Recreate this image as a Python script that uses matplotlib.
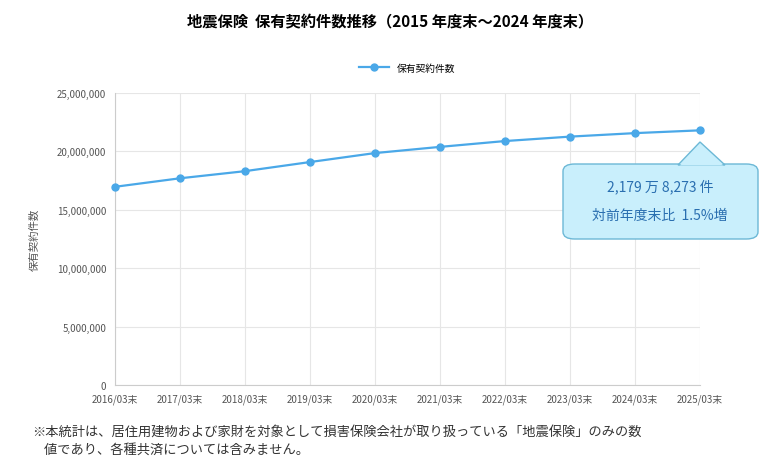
import matplotlib
matplotlib.use("Agg")
import matplotlib.pyplot as plt
from matplotlib.patches import FancyBboxPatch, Polygon

plt.rcParams['font.family'] = ['Noto Sans CJK JP', 'DejaVu Sans']

# data
years = ['2016/03末', '2017/03末', '2018/03末', '2019/03末', '2020/03末',
         '2021/03末', '2022/03末', '2023/03末', '2024/03末', '2025/03末']
contracts = [16960000, 17690000, 18300000, 19080000, 19850000,
             20380000, 20880000, 21260000, 21560000, 21798273]
yticks = [0, 5000000, 10000000, 15000000, 20000000, 25000000]

fig = plt.figure(figsize=(7.8, 4.77), dpi=100)
ax = fig.add_axes([0.147, 0.191, 0.750, 0.612])

x = range(len(years))
ax.plot(x, contracts, color='#4aa8e8', lw=1.6, marker='o', ms=5,
        label='保有契約件数', clip_on=False, zorder=3)

ax.set_xlim(0, len(years) - 1)
ax.set_ylim(0, 25000000)
ax.set_yticks(yticks)
ax.set_yticklabels([f'{v:,}' for v in yticks], fontsize=7, color='#555555')
ax.set_xticks(list(x))
ax.set_xticklabels(years, fontsize=7, color='#555555')
ax.grid(True, color='#e6e6e6', lw=0.8)
ax.tick_params(length=0, pad=6)
for s in ['top', 'right']:
    ax.spines[s].set_visible(False)
for s in ['left', 'bottom']:
    ax.spines[s].set_color('#cccccc')
ax.set_ylabel('保有契約件数', fontsize=7.5, color='#555555', labelpad=12)

ax.legend(loc='lower center', bbox_to_anchor=(0.5, 1.04), frameon=False,
          fontsize=7, handlelength=3)

fig.text(0.5, 0.955, '地震保険  保有契約件数推移（2015 年度末～2024 年度末）',
         ha='center', va='center', fontsize=11, fontweight='bold')

# callout
W, H = 780, 477
box = FancyBboxPatch((563 / W, 1 - 240 / H), 195 / W, 75 / H,
                     boxstyle='round,pad=0,rounding_size=0.015',
                     transform=fig.transFigure, facecolor='#c9effc',
                     edgecolor='#6cb8d6', lw=1)
fig.patches.append(box)
tri = Polygon([(678 / W, 1 - 166 / H), (700 / W, 1 - 143 / H), (725 / W, 1 - 166 / H)],
              closed=True, transform=fig.transFigure, facecolor='#c9effc',
              edgecolor='#6cb8d6', lw=1)
fig.patches.append(tri)
cover = Polygon([(680 / W, 1 - 166.5 / H), (700 / W, 1 - 145 / H), (723 / W, 1 - 166.5 / H)],
                closed=True, transform=fig.transFigure, facecolor='#c9effc', lw=0)
fig.patches.append(cover)
fig.text(660 / W, 1 - 187 / H, '2,179 万 8,273 件', ha='center', va='center',
         fontsize=10, color='#2a6fb0')
fig.text(660 / W, 1 - 216 / H, '対前年度末比  1.5%増', ha='center', va='center',
         fontsize=10, color='#2a6fb0')

fig.text(32 / W, 0.075, '※本統計は、居住用建物および家財を対象として損害保険会社が取り扱っている「地震保険」のみの数\n'
         '    値であり、各種共済については含みません。',
         ha='left', va='center', fontsize=9.5, color='#333333', linespacing=1.5)

fig.savefig('out.png', dpi=100)
